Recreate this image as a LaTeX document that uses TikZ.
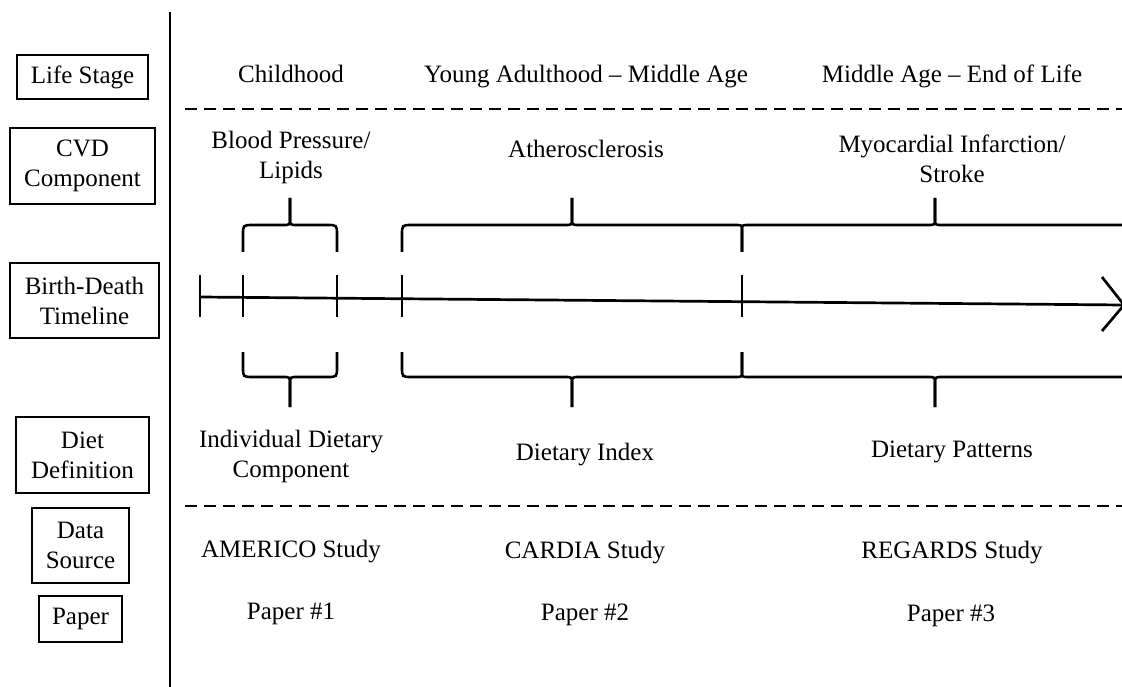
\documentclass[tikz,border=0pt]{standalone}
\usepackage{fontspec}
\setmainfont{Liberation Serif}
\newcommand\myfs{\fontsize{25}{30}\selectfont}
\newcommand\mytopbrace[5]{%
 \draw[brc] (#1,252) -- (#1,{225+#4}) .. controls (#1,225) .. ({#1+#4},225) -- ({#2-7},225) .. controls (#2,225) .. (#2,218) -- (#2,198);
 \draw[brc] (#2,198) -- (#2,218) .. controls (#2,225) .. ({#2+7},225) -- ({#3-#5},225) .. controls (#3,225) .. (#3,{225+#5}) -- (#3,252);}
\newcommand\mybotbrace[5]{%
 \draw[brc] (#1,352) -- (#1,{377-#4}) .. controls (#1,377) .. ({#1+#4},377) -- ({#2-7},377) .. controls (#2,377) .. (#2,384) -- (#2,407);
 \draw[brc] (#2,407) -- (#2,384) .. controls (#2,377) .. ({#2+7},377) -- ({#3-#5},377) .. controls (#3,377) .. (#3,{377-#5}) -- (#3,352);}
\begin{document}
\begin{tikzpicture}[x=1pt,y=-1pt,
  lab/.style={draw, line width=2.9pt, align=center, inner sep=0pt, font=\myfs},
  txt/.style={align=center, inner sep=0pt, font=\myfs},
  brc/.style={line width=2.6pt},
  dsh/.style={line width=2.6pt, dash pattern=on 12pt off 7pt},
  tl/.style={line width=2.7pt},
  tick/.style={line width=2.7pt}]
\clip (0,0) rectangle (1122,687);
\useasboundingbox (0,0) rectangle (1122,687);

% left labels
\node[lab, minimum width=131pt, minimum height=44pt] (ls) at (82.5,77) {Life Stage};
\node[lab, minimum width=145pt, minimum height=76pt] (cvd) at (82.5,166) {CVD\\Component};
\node[lab, minimum width=149pt, minimum height=75pt] (bdt) at (84.5,300.5) {Birth-Death\\Timeline};
\node[lab, minimum width=133pt, minimum height=76pt] (dd) at (82.5,455) {Diet\\Definition};
\node[lab, minimum width=97pt, minimum height=75pt] (ds) at (80.5,545.5) {Data\\Source};
\node[lab, minimum width=83pt, minimum height=46pt] (pp) at (80.5,619) {Paper};

% separator
\coordinate (vt) at (170,12);
\coordinate (vb) at (170,690);
\draw[line width=2.9pt] (vt) -- (vb);
\coordinate (d1a) at (185,109);
\coordinate (d1b) at (1125,109);
\coordinate (d2a) at (185,506);
\coordinate (d2b) at (1125,506);
\draw[dsh] (d1a) -- (d1b);
\draw[dsh] (d2a) -- (d2b);

% life stage row
\node[txt, anchor=base] (ls1) at (291,83) {Childhood};
\node[txt, anchor=base] (ls2) at (586,83) {Young Adulthood -- Middle Age};
\node[txt, anchor=base] (ls3) at (952,83) {Middle Age -- End of Life};

% CVD row
\node[txt] (c1) at (291,157) {Blood Pressure/\\Lipids};
\node[txt, anchor=base] (c2) at (586,158) {Atherosclerosis};
\node[txt] (c3) at (952,159) {Myocardial Infarction/\\Stroke};

% timeline
\coordinate (t0) at (200,297);
\coordinate (tend) at (1124,305);
\draw[tl] (t0) -- (tend);
\foreach \x in {200,243,337,402,742}{
  \draw[tick] (\x,275) -- (\x,317);
}
\coordinate (aw1) at (1102,277);
\coordinate (aw2) at (1102,331);
\draw[tl] (aw1) -- (tend) -- (aw2);

% braces
\mytopbrace{243}{290}{337}{10}{10}
\mytopbrace{402}{572}{742}{10}{6}
\mytopbrace{742}{935}{1160}{6}{10}
\mybotbrace{243}{290}{337}{10}{10}
\mybotbrace{402}{572}{742}{10}{6}
\mybotbrace{742}{935}{1160}{6}{10}

% diet row
\node[txt] (dd1) at (291,456) {Individual Dietary\\Component};
\node[txt, anchor=base] (dd2) at (585,460) {Dietary Index};
\node[txt, anchor=base] (dd3) at (952,457) {Dietary Patterns};

% data source row
\node[txt, anchor=base] (s1) at (291,557) {AMERICO Study};
\node[txt, anchor=base] (s2) at (585,558) {CARDIA Study};
\node[txt, anchor=base] (s3) at (952,558) {REGARDS Study};

% paper row
\node[txt, anchor=base] (p1) at (291,619) {Paper \#1};
\node[txt, anchor=base] (p2) at (585,620) {Paper \#2};
\node[txt, anchor=base] (p3) at (951,621) {Paper \#3};
\end{tikzpicture}
\end{document}
